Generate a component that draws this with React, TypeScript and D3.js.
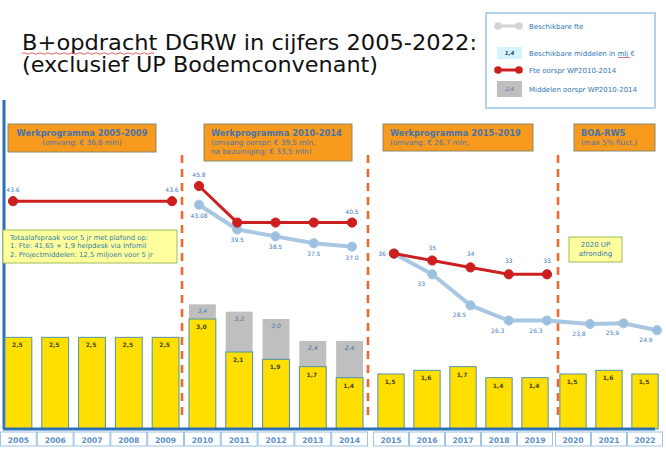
import React from 'react';
import * as d3 from 'd3';

// ---------- DATA ----------
const years = [2005, 2006, 2007, 2008, 2009, 2010, 2011, 2012, 2013, 2014, 2015, 2016, 2017, 2018, 2019, 2020, 2021, 2022];
const yellowValues = [2.5, 2.5, 2.5, 2.5, 2.5, 3.0, 2.1, 1.9, 1.7, 1.4, 1.5, 1.6, 1.7, 1.4, 1.4, 1.5, 1.6, 1.5];
const grayYears = [2010, 2011, 2012, 2013, 2014];
const grayValues = [3.4, 3.2, 3.0, 2.4, 2.4];

const segAYears = [2005, 2006, 2007, 2008, 2009, 2010, 2011, 2012, 2013, 2014];
const segBYears = [2015, 2016, 2017, 2018, 2019];
const segCYears = [2020, 2021, 2022];

const redYearsA = [2005, 2009];
const redValuesA = [43.6, 43.6];
const redLabelsA = ['43.6', '43.6'];

const redYearsB = [2010, 2011, 2012, 2013, 2014];
const redValuesB = [45.8, 40.5, 40.5, 40.5, 40.5];
const redLabelsB = ['45.8', '', '', '', '40.5'];

const blueYearsB = [2010, 2011, 2012, 2013, 2014];
const blueValuesB = [43.08, 39.5, 38.5, 37.5, 37.0];
const blueLabelsB = ['43.08', '39.5', '38.5', '37.5', '37.0'];

const redYearsC = [2015, 2016, 2017, 2018, 2019];
const redValuesC = [36, 35, 34, 33, 33];
const redLabelsC = ['', '35', '34', '33', '33'];

const blueYearsC = [2015, 2016, 2017, 2018, 2019, 2020, 2021, 2022];
const blueValuesC = [36, 33, 28.5, 26.3, 26.3, 25.8, 25.9, 24.9];
const blueLabelsC = ['36', '33', '28.5', '26.3', '26.3', '23,8', '25,9', '24,9'];

const titleLines = ['B+opdracht DGRW in cijfers 2005-2022:', '(exclusief UP Bodemconvenant)'];
const legendItems = ['Beschikbare fte', 'Beschikbare middelen in mlj €', 'Fte oorspr WP2010-2014', 'Middelen oorspr WP2010-2014'];
const noteLines = [
  'Totaalafspraak voor 5 jr met plafond op:',
  '1. Fte: 41,65 + 1,9 helpdesk via Infomil',
  '2. Projectmiddelen: 12,5 miljoen voor 5 jr',
];
const upNote = ['2020 UP', 'afronding'];

// ---------- STYLE ----------
const FONT = 'DejaVu Sans';
const ORANGE = '#F79A1E';
const YELLOW = '#FFDF00';
const GRAY = '#BFBFBF';
const RED = '#CC2020';
const BLUE_LINE = '#A9C7E2';
const BLUE_MARK = '#9CC0E0';
const AXIS_BLUE = '#2A70B8';
const LABEL_BLUE = '#3F7CC0';
const BOX_TEXT = '#4A74A8';
const DASH = '#EE6A2C';

const fmtComma = (v: number) => d3.format('.1f')(v).replace('.', ',');

export default function App() {
  const W = 666;
  const H = 449;
  const baseY = 429;

  const bandA = d3.scaleBand<number>().domain(segAYears).range([0, 368]);
  const bandB = d3.scaleBand<number>().domain(segBYears).range([373, 553]);
  const bandC = d3.scaleBand<number>().domain(segCYears).range([555, 663]);
  const bandOf = (y: number) => (segAYears.includes(y) ? bandA : segBYears.includes(y) ? bandB : bandC);

  const yBar = d3.scaleLinear().domain([0, 3]).range([baseY, 319]);

  const lxA = d3.scaleLinear().domain([2005, 2009]).range([13, 172]);
  const lxB = d3.scaleLinear().domain([2010, 2014]).range([199, 352]);
  const lxC = d3.scaleLinear().domain([2015, 2019]).range([394, 547]);
  const lxD = d3.scaleLinear().domain([2020, 2022]).range([590, 657]);
  const lx = (y: number) => (y <= 2009 ? lxA(y) : y <= 2014 ? lxB(y) : y <= 2019 ? lxC(y) : lxD(y));
  const yLine = d3.scaleLinear().domain([20, 50]).range([364, 157]);

  const line = d3.line<[number, number]>().x((d) => lx(d[0])).y((d) => yLine(d[1]));
  const zip = (ys: number[], vs: number[]) => ys.map((y, i) => [y, vs[i]] as [number, number]);

  const renderSeries = (
    ys: number[], vs: number[], labels: string[], color: string, mark: string, width: number,
    dx: number, dy: number, key: string, firstOffset?: [number, number]
  ) => (
    <g key={key}>
      <path d={line(zip(ys, vs)) || ''} fill="none" stroke={color} strokeWidth={width} strokeLinejoin="round" />
      {ys.map((y, i) => (
        <circle key={i} cx={lx(y)} cy={yLine(vs[i])} r={4.6} fill={mark} stroke={color} strokeWidth={1} />
      ))}
      {ys.map((y, i) =>
        labels[i] ? (
          <text key={'l' + i}
            x={lx(y) + (i === 0 && firstOffset ? firstOffset[0] : dx)}
            y={yLine(vs[i]) + (i === 0 && firstOffset ? firstOffset[1] : dy)}
            fontSize={6} fill={LABEL_BLUE} textAnchor="middle" fontFamily={FONT}>
            {labels[i]}
          </text>
        ) : null
      )}
    </g>
  );

  const dashXs = [182, 368, 558];

  const orangeBoxes = [
    { x: 8, y: 124, w: 148, h: 28, lines: ['Werkprogramma 2005-2009', '(omvang: € 36,6 mln)'], center: true },
    { x: 204, y: 124, w: 148, h: 37, lines: ['Werkprogramma 2010-2014', '(omvang oorspr: € 39,5 mln,', 'na bezuiniging: € 33,5 mln)'], center: false },
    { x: 383, y: 124, w: 150, h: 27, lines: ['Werkprogramma 2015-2019', '(omvang: € 26,7 mln,'], center: false },
    { x: 574, y: 124, w: 81, h: 27, lines: ['BOA-RWS', '(max 5% fluct.)'], center: false },
  ];

  return (
    <svg width={W} height={H} style={{ position: 'absolute', left: 0, top: 0, background: '#fff' }} fontFamily={FONT}>
      <rect width={W} height={H} fill="#fff" />

      {/* Title */}
      <text x={22} y={49.5} fontSize={21.5} fill="#111" textLength={455} lengthAdjust="spacingAndGlyphs">{titleLines[0]}</text>
      <text x={22} y={72} fontSize={21.5} fill="#111" textLength={356} lengthAdjust="spacingAndGlyphs">{titleLines[1]}</text>
      <path d="M22,53.5 q2,-1.5 4,0 t4,0 t4,0 t4,0 t4,0 t4,0 t4,0 t4,0 t4,0 t4,0 t4,0 t4,0 t4,0 t4,0 t4,0 t4,0 t4,0 t4,0 t4,0 t4,0 t4,0 t4,0 t4,0 t4,0 t4,0 t4,0 t4,0 t4,0 t4,0 t4,0 t4,0 t4,0 t4,0"
        fill="none" stroke="#E05050" strokeWidth={0.9} />

      {/* Legend */}
      <g>
        <rect x={486} y={13} width={169} height={95} fill="#fff" stroke="#9DC3E6" strokeWidth={1.5} />
        <line x1={497} x2={520} y1={26} y2={26} stroke="#D3D3D3" strokeWidth={3} />
        <circle cx={498} cy={26} r={3.8} fill="#D3D3D3" />
        <circle cx={519} cy={26} r={3.8} fill="#D3D3D3" />
        <rect x={497} y={47} width={25} height={12} fill="#D6F4FB" />
        <text x={509.5} y={55.2} fontSize={5.5} fontStyle="italic" fontWeight="bold" fill="#1F4E79" textAnchor="middle">1,4</text>
        <line x1={497} x2={520} y1={70} y2={70} stroke={RED} strokeWidth={3} />
        <circle cx={498} cy={70} r={3.8} fill={RED} />
        <circle cx={519} cy={70} r={3.8} fill={RED} />
        <rect x={497} y={81} width={25} height={16} fill={GRAY} />
        <text x={509.5} y={91} fontSize={5.5} fontStyle="italic" fill={BOX_TEXT} textAnchor="middle">2,4</text>
        {legendItems.map((t, i) => (
          <text key={t} x={529} y={[28.5, 55.5, 72.5, 92][i]} fontSize={7} fill="#2E75B6">{t}</text>
        ))}
        <line x1={618} x2={630} y1={57.5} y2={57.5} stroke="#E05050" strokeWidth={0.8} />
      </g>

      {/* Left vertical axis line */}
      <line x1={4} x2={4} y1={100} y2={baseY} stroke={AXIS_BLUE} strokeWidth={3} />

      {/* Orange header boxes */}
      {orangeBoxes.map((b, bi) => (
        <g key={bi}>
          <rect x={b.x} y={b.y} width={b.w} height={b.h} fill={ORANGE} stroke="#8A8A6A" strokeWidth={1} />
          {b.lines.map((t, i) => (
            <text key={i}
              x={b.center ? b.x + b.w / 2 : b.x + 7}
              y={b.y + 12 + i * 9.3 - (i > 0 ? 0.8 : 0)}
              fontSize={i === 0 ? 8.3 : 7.3}
              fontWeight={i === 0 ? 'bold' : 'normal'}
              fill={BOX_TEXT}
              textAnchor={b.center ? 'middle' : 'start'}>
              {t}
            </text>
          ))}
        </g>
      ))}

      {/* Gray bars (original budgets) */}
      {grayYears.map((y, i) => {
        const band = bandOf(y);
        const bw = band.bandwidth() * 0.73;
        const cx = (band(y) || 0) + band.bandwidth() / 2;
        const top = yBar(grayValues[i]);
        return (
          <g key={'g' + y}>
            <rect x={cx - bw / 2} y={top} width={bw} height={baseY - top} fill={GRAY} />
            <text x={cx} y={top + 9} fontSize={6} fontStyle="italic" fill={BOX_TEXT} textAnchor="middle">{fmtComma(grayValues[i])}</text>
          </g>
        );
      })}

      {/* Yellow bars */}
      {years.map((y, i) => {
        const band = bandOf(y);
        const bw = band.bandwidth() * 0.73;
        const cx = (band(y) || 0) + band.bandwidth() / 2;
        const top = yBar(yellowValues[i]);
        return (
          <g key={'y' + y}>
            <rect x={cx - bw / 2} y={top} width={bw} height={baseY - top} fill={YELLOW} stroke="#4E93A8" strokeWidth={1} />
            <text x={cx - 1} y={top + 10} fontSize={6} fontWeight="bold" fill="#44441C" textAnchor="middle">{fmtComma(yellowValues[i])}</text>
          </g>
        );
      })}

      {/* X axis line and year cells */}
      <line x1={3} x2={655} y1={baseY} y2={baseY} stroke={AXIS_BLUE} strokeWidth={3} />
      {years.map((y) => {
        const band = bandOf(y);
        const x0 = band(y) || 0;
        return (
          <g key={'c' + y}>
            <rect x={x0 + 0.5} y={432} width={band.bandwidth() - 1} height={14} fill="#fff" stroke="#9DC3E6" strokeWidth={1} />
            <text x={x0 + band.bandwidth() / 2} y={442.5} fontSize={7.6} fontWeight="bold" fill="#5B8FC8" textAnchor="middle">{y}</text>
          </g>
        );
      })}

      {/* Dashed separators */}
      {dashXs.map((x) => (
        <line key={x} x1={x} x2={x} y1={155} y2={418} stroke={DASH} strokeWidth={2.6} strokeDasharray="8,6" />
      ))}

      {/* Note boxes */}
      <rect x={3} y={230} width={174} height={33} fill="#FFFF9E" stroke="#9BBB59" strokeWidth={1} />
      {noteLines.map((t, i) => (
        <text key={i} x={10} y={239.5 + i * 8.6} fontSize={6.9} fill="#2F7EA0">{t}</text>
      ))}
      <rect x={569} y={237} width={53} height={25} fill="#FFFF9E" stroke="#9BBB59" strokeWidth={1} />
      {upNote.map((t, i) => (
        <text key={i} x={595.5} y={247 + i * 9} fontSize={7} fill="#2E75B6" textAnchor="middle">{t}</text>
      ))}

      {/* Lines */}
      {renderSeries(blueYearsB, blueValuesB, blueLabelsB, BLUE_LINE, BLUE_MARK, 4, 0, 13, 'bB')}
      {renderSeries(blueYearsC, blueValuesC, blueLabelsC, BLUE_LINE, BLUE_MARK, 4, -11, 12, 'bC', [-12, 2])}
      {renderSeries(redYearsA, redValuesA, redLabelsA, RED, RED, 3, 0, -9, 'rA')}
      {renderSeries(redYearsB, redValuesB, redLabelsB, RED, RED, 3, 0, -9, 'rB')}
      {renderSeries(redYearsC, redValuesC, redLabelsC, RED, RED, 3, 0, -11, 'rC')}
    </svg>
  );
}
